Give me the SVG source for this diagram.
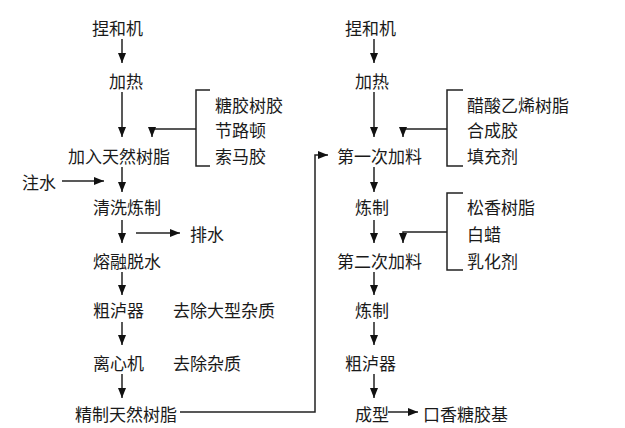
<svg xmlns="http://www.w3.org/2000/svg" width="625" height="428" viewBox="0 0 625 428">
<style>
text{font-family:"Noto Sans CJK SC","Noto Sans",sans-serif;font-size:17px;fill:#1a1a1a;dominant-baseline:central}
.l{fill:none;stroke:#222;stroke-width:1.5}
.a{marker-end:url(#ah)}
</style>
<defs>
<marker id="ah" viewBox="0 0 10 10" refX="10" refY="5" markerWidth="10" markerHeight="10" markerUnits="userSpaceOnUse" orient="auto">
<path d="M0,1 L10,5 L0,9 z" fill="#111"/>
</marker>
</defs>
<rect width="625" height="428" fill="#fff"/>
<g id="connectors">
<path class="l a" d="M122,39 V63"/>
<path class="l a" d="M122,92 V137"/>
<path class="l a" d="M196,129 H152 V137"/>
<path class="l" d="M210,90 H196 V166 H210"/>
<path class="l a" d="M62,181 H104"/>
<path class="l a" d="M122,167 V192"/>
<path class="l a" d="M122,220 V243"/>
<path class="l a" d="M136,233 H180"/>
<path class="l a" d="M122,272 V295"/>
<path class="l a" d="M122,322 V345"/>
<path class="l a" d="M122,374 V398"/>
<path class="l a" d="M180,412 H315 V155 H328"/>
<path class="l a" d="M374,39 V63"/>
<path class="l a" d="M374,92 V137"/>
<path class="l a" d="M447,129 H403 V137"/>
<path class="l" d="M463,90 H447 V166 H463"/>
<path class="l a" d="M374,167 V192"/>
<path class="l" d="M463,193 H447 V270 H463"/>
<path class="l a" d="M447,232 H403 V243"/>
<path class="l a" d="M374,220 V243"/>
<path class="l a" d="M374,272 V295"/>
<path class="l a" d="M374,322 V345"/>
<path class="l a" d="M374,374 V398"/>
<path class="l a" d="M388,412 H418"/>
</g>
<g id="L1"><text x="92" y="27">捏和机</text></g>
<g id="L2"><text x="109" y="80">加热</text></g>
<g id="LA"><text x="215" y="104">糖胶树胶</text><text x="215" y="129">节路顿</text><text x="215" y="155">索马胶</text></g>
<g id="L3"><text x="68" y="155">加入天然树脂</text></g>
<g id="LW"><text x="22" y="181">注水</text></g>
<g id="L4"><text x="93" y="206">清洗炼制</text></g>
<g id="LD"><text x="190" y="233">排水</text></g>
<g id="L5"><text x="93" y="260">熔融脱水</text></g>
<g id="L6"><text x="93" y="309">粗泸器</text><text x="173" y="309">去除大型杂质</text></g>
<g id="L7"><text x="93" y="362">离心机</text><text x="173" y="362">去除杂质</text></g>
<g id="L8"><text x="75" y="413">精制天然树脂</text></g>
<g id="R1"><text x="345" y="27">捏和机</text></g>
<g id="R2"><text x="355" y="80">加热</text></g>
<g id="RA"><text x="467" y="104">醋酸乙烯树脂</text><text x="467" y="129">合成胶</text><text x="467" y="155">填充剂</text></g>
<g id="R3"><text x="337" y="155">第一次加料</text></g>
<g id="R4"><text x="355" y="206">炼制</text></g>
<g id="RB"><text x="467" y="206">松香树脂</text><text x="467" y="233">白蜡</text><text x="467" y="260">乳化剂</text></g>
<g id="R5"><text x="337" y="260">第二次加料</text></g>
<g id="R6"><text x="355" y="309">炼制</text></g>
<g id="R7"><text x="345" y="362">粗泸器</text></g>
<g id="R8"><text x="355" y="413">成型</text></g>
<g id="R9"><text x="423" y="413">口香糖胶基</text></g>
</svg>
